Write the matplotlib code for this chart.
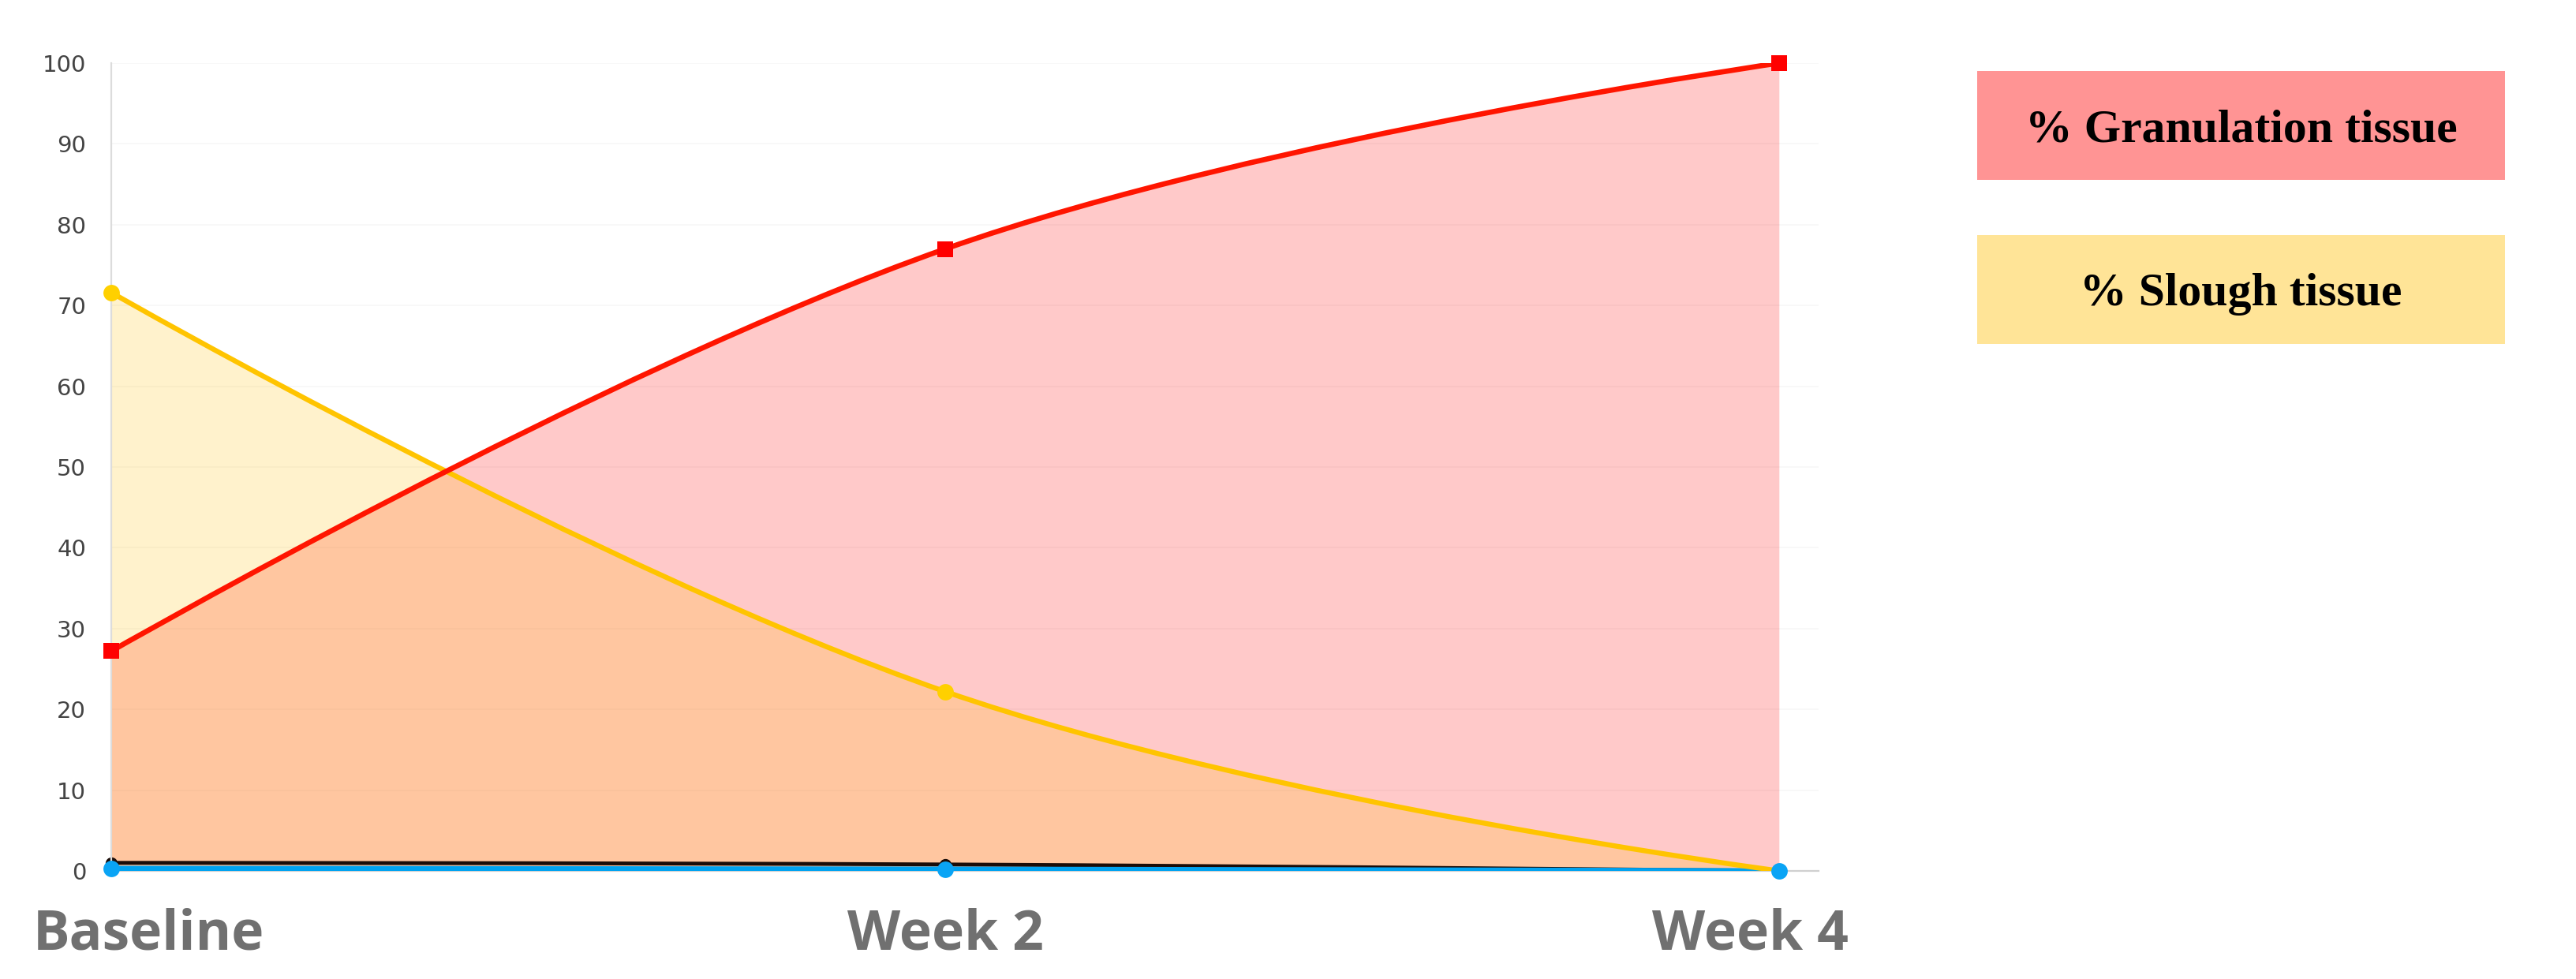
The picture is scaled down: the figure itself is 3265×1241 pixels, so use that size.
import math
import matplotlib
matplotlib.use("Agg")
import matplotlib.pyplot as plt
from matplotlib.path import Path
from matplotlib.patches import PathPatch, Rectangle

# data
timepoints = ["Baseline", "Week 2", "Week 4"]
granulation = [27.2, 77.0, 100.0]
slough = [71.6, 22.2, 0.0]
dark_series = [1.0, 0.8, 0.0]
blue_series = [0.3, 0.2, 0.0]
yticks = list(range(0, 101, 10))
legend_labels = ["% Granulation tissue", "% Slough tissue"]

W, H = 3266, 1241
fig = plt.figure(figsize=(W / 100, H / 100), dpi=100)
ax = fig.add_axes([141 / W, 1 - 1104 / H, (2305 - 141) / W, (1104 - 80) / H])
ax.set_xlim(0, 2.047)
ax.set_ylim(0, 100)

# pixel scale used for the tension spline (like chart.js, tension 0.4)
SX, SY = 1057.0, 10.24


def spline_path(ys, tension=0.4, closed=False):
    xs = list(range(len(ys)))
    px = [x * SX for x in xs]
    py = [y * SY for y in ys]
    n = len(px)
    cprev, cnext = [None] * n, [None] * n
    for i in range(n):
        if i == 0 or i == n - 1:
            cprev[i] = cnext[i] = (px[i], py[i])
            continue
        d01 = math.hypot(px[i] - px[i - 1], py[i] - py[i - 1])
        d12 = math.hypot(px[i + 1] - px[i], py[i + 1] - py[i])
        s01 = d01 / (d01 + d12)
        s12 = d12 / (d01 + d12)
        dx = px[i + 1] - px[i - 1]
        dy = py[i + 1] - py[i - 1]
        cprev[i] = (px[i] - tension * s01 * dx, py[i] - tension * s01 * dy)
        cnext[i] = (px[i] + tension * s12 * dx, py[i] + tension * s12 * dy)
    verts = [(px[0], py[0])]
    codes = [Path.MOVETO]
    for i in range(n - 1):
        verts += [cnext[i], cprev[i + 1], (px[i + 1], py[i + 1])]
        codes += [Path.CURVE4] * 3
    verts = [(vx / SX, vy / SY) for vx, vy in verts]
    if closed:
        verts += [(xs[-1], 0), (xs[0], 0), (xs[0], 0)]
        codes += [Path.LINETO, Path.LINETO, Path.CLOSEPOLY]
    return Path(verts, codes)


# area fills
ax.add_patch(PathPatch(spline_path(granulation, closed=True), facecolor=(1, 0, 0, 0.21),
                       edgecolor="none", zorder=1))
ax.add_patch(PathPatch(spline_path(slough, closed=True), facecolor=(1, 0.745, 0, 0.2),
                       edgecolor="none", zorder=1.1))

# lines
ax.add_patch(PathPatch(spline_path(dark_series), facecolor="none", edgecolor="#1a0c08",
                       lw=3.5, zorder=2, capstyle="round"))
ax.add_patch(PathPatch(spline_path(blue_series), facecolor="none", edgecolor="#00a2f0",
                       lw=5.0, zorder=3, capstyle="round"))
ax.add_patch(PathPatch(spline_path(slough), facecolor="none", edgecolor="#ffc400",
                       lw=4.6, zorder=4, capstyle="round"))
ax.add_patch(PathPatch(spline_path(granulation), facecolor="none", edgecolor="#ff1500",
                       lw=4.8, zorder=5, capstyle="round"))

xs = list(range(len(timepoints)))
ax.plot(xs, dark_series, "o", color="#1a0c08", ms=10, zorder=2.5, clip_on=False)
ax.plot(xs, blue_series, "o", color="#0aa4f5", ms=15, mew=0, zorder=6, clip_on=False)
ax.plot(xs[:2], slough[:2], "o", color="#ffd000", ms=15, mew=0, zorder=6, clip_on=False)
ax.plot(xs, granulation, "s", color="#ff0000", ms=15, mew=0, zorder=7, clip_on=False)

# axes styling
ax.set_yticks(yticks)
ax.set_yticklabels([str(t) for t in yticks], fontsize=21, color="#444444")
ax.tick_params(axis="y", length=0, pad=23)
ax.set_xticks([])
ax.grid(axis="y", color="#f7f7f7", lw=1.2, zorder=0)
ax.set_axisbelow(True)
for side in ["top", "right"]:
    ax.spines[side].set_visible(False)
ax.spines["left"].set_color("#dcdcdc")
ax.spines["left"].set_linewidth(1.6)
ax.spines["bottom"].set_color("#d0d0d0")
ax.spines["bottom"].set_linewidth(1.6)

# category labels under the axis
aligns = ["left", "center", "right"]
offsets = [-99, 0, 88]
for x, lab, ha, dx in zip(xs, timepoints, aligns, offsets):
    ax.annotate(lab, xy=(x, 0), xycoords=("data", "axes fraction"), xytext=(dx, -82),
                textcoords="offset pixels", ha=ha, va="center", fontsize=50,
                fontfamily="Open Sans", fontweight="bold", color="#707070")

# legend boxes on the right
box_colors = ["#ff9494", "#ffe497"]
box_tops = [90, 298]
box_h = 138
for lab, col, top in zip(legend_labels, box_colors, box_tops):
    fig.patches.append(Rectangle((2506 / W, 1 - (top + box_h) / H), (3175 - 2506) / W, box_h / H,
                                 transform=fig.transFigure, facecolor=col, edgecolor="none"))
    fig.text((2506 + 3175) / 2 / W, 1 - (top + box_h / 2 + 20) / H, lab, ha="center",
             va="baseline", fontsize=43, fontfamily="Liberation Serif", fontweight="bold",
             color="black")

fig.savefig("out.png", dpi=100, facecolor="white")
